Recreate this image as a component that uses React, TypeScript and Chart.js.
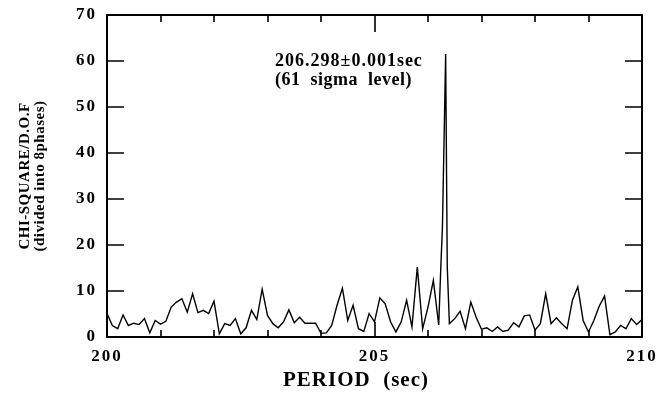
import React, { useEffect, useRef } from 'react';
import { Chart, registerables } from 'chart.js';

Chart.register(...registerables);

// Trial periods (sec); finer sampling around the detected peak
const periods: number[] = [
  200.0, 200.1, 200.2, 200.3, 200.4, 200.5, 200.6, 200.7, 200.8, 200.9,
  201.0, 201.1, 201.2, 201.3, 201.4, 201.5, 201.6, 201.7, 201.8, 201.9,
  202.0, 202.1, 202.2, 202.3, 202.4, 202.5, 202.6, 202.7, 202.8, 202.9,
  203.0, 203.1, 203.2, 203.3, 203.4, 203.5, 203.6, 203.7, 203.8, 203.9,
  204.0, 204.1, 204.2, 204.3, 204.4, 204.5, 204.6, 204.7, 204.8, 204.9,
  205.0, 205.1, 205.2, 205.3, 205.4, 205.5, 205.6, 205.7, 205.8, 205.9,
  206.0, 206.1, 206.2,
  206.24, 206.27, 206.33, 206.36,
  206.4, 206.5, 206.6, 206.7, 206.8, 206.9,
  207.0, 207.1, 207.2, 207.3, 207.4, 207.5, 207.6, 207.7, 207.8, 207.9,
  208.0, 208.1, 208.2, 208.3, 208.4, 208.5, 208.6, 208.7, 208.8, 208.9,
  209.0, 209.1, 209.2, 209.3, 209.4, 209.5, 209.6, 209.7, 209.8, 209.9,
  210.0,
];

// Chi-square / D.O.F values
const chiSquare: number[] = [
  5.1, 2.5, 1.8, 4.8, 2.5, 3.0, 2.7, 4.0, 0.9, 3.6,
  2.8, 3.4, 6.5, 7.6, 8.3, 5.4, 9.4, 5.3, 5.8, 5.1,
  7.8, 0.7, 2.9, 2.5, 4.0, 0.7, 2.0, 5.8, 3.8, 10.4,
  4.7, 2.9, 2.0, 3.3, 5.9, 3.1, 4.3, 3.0, 3.0, 3.0,
  0.8, 0.9, 2.5, 6.9, 10.6, 3.6, 6.9, 1.8, 1.2, 5.1,
  3.3, 8.5, 7.2, 3.3, 1.1, 3.3, 8.0, 2.2, 15.2, 1.8,
  6.5, 12.3, 2.6,
  15.3, 24.0, 61.5, 15.3,
  2.9, 4.0, 5.6, 1.8, 7.6, 4.3,
  1.7, 2.0, 1.2, 2.2, 1.2, 1.5, 3.1, 2.2, 4.6, 4.8,
  1.5, 2.9, 9.4, 2.9, 4.2, 2.9, 1.8, 8.0, 10.9, 3.6,
  1.1, 3.6, 6.7, 8.9, 0.5, 1.1, 2.5, 1.8, 4.0, 2.7,
  3.8,
];

const xTickLabels: number[] = [200, 205, 210];
const xTickMarks: number[] = [201, 202, 203, 204, 205, 206, 207, 208, 209];
const xMajorMarks: number[] = [205];
const yTickValues: number[] = [0, 10, 20, 30, 40, 50, 60, 70];
const yTickMarks: number[] = [10, 20, 30, 40, 50, 60];

const xTitle = 'PERIOD  (sec)';
const yTitleLines: string[] = ['CHI-SQUARE/D.O.F', '(divided into 8phases)'];
const annotationLines: string[] = ['206.298±0.001sec', '(61  sigma  level)'];

const SERIF = '"Liberation Serif", "Times New Roman", serif';

const framePlugin = {
  id: 'frameAndText',
  beforeDraw(chart: any) {
    (chart.ctx as any).letterSpacing = '2px';
  },
  afterDraw(chart: any) {
    const { ctx, chartArea, scales } = chart;
    const { left, right, top, bottom } = chartArea;
    const x = scales.x;
    const y = scales.y;
    ctx.save();
    ctx.strokeStyle = '#000';
    ctx.lineWidth = 2;
    ctx.strokeRect(left, top, right - left, bottom - top);
    ctx.beginPath();
    ctx.lineWidth = 1.6;
    for (const v of xTickMarks) {
      const px = Math.round(x.getPixelForValue(v));
      const major = xMajorMarks.includes(v);
      ctx.moveTo(px, bottom);
      ctx.lineTo(px, bottom - (major ? 15 : 7));
      ctx.moveTo(px, top);
      ctx.lineTo(px, top + (major ? 17 : 7));
    }
    for (const v of yTickMarks) {
      const py = Math.round(y.getPixelForValue(v));
      ctx.moveTo(left, py);
      ctx.lineTo(left + 17, py);
      ctx.moveTo(right, py);
      ctx.lineTo(right - 17, py);
    }
    ctx.stroke();

    ctx.fillStyle = '#000';
    ctx.textBaseline = 'middle';
    // x title
    ctx.font = `bold 21px ${SERIF}`;
    (ctx as any).letterSpacing = '1px';
    ctx.textAlign = 'center';
    ctx.fillText(xTitle, 356, 381);

    // y title (rotated)
    ctx.save();
    ctx.translate(0, (top + bottom) / 2);
    ctx.rotate(-Math.PI / 2);
    ctx.font = `bold 15px ${SERIF}`;
    (ctx as any).letterSpacing = '0.5px';
    ctx.fillText(yTitleLines[0], 0, 25);
    ctx.fillText(yTitleLines[1], 0, 40);
    ctx.restore();

    // annotation
    ctx.textAlign = 'left';
    ctx.font = `bold 18px ${SERIF}`;
    (ctx as any).letterSpacing = '1px';
    ctx.fillText(annotationLines[0], 275, 61);
    (ctx as any).letterSpacing = '0.5px';
    ctx.fillText(annotationLines[1], 275, 80);
    ctx.restore();
    (ctx as any).letterSpacing = '0px';
  },
};

export default function App() {
  const canvasRef = useRef<HTMLCanvasElement | null>(null);

  useEffect(() => {
    const canvas = canvasRef.current;
    if (!canvas) return;
    const chart = new Chart(canvas, {
      type: 'line',
      data: {
        datasets: [
          {
            data: periods.map((p, i) => ({ x: p, y: chiSquare[i] })),
            borderColor: '#000',
            borderWidth: 1.4,
            pointRadius: 0,
            tension: 0,
            fill: false,
          },
        ],
      },
      options: {
        responsive: false,
        animation: false,
        events: [],
        layout: { padding: { left: 0, right: 18, top: 15, bottom: 0 } },
        plugins: { legend: { display: false }, tooltip: { enabled: false } },
        scales: {
          x: {
            type: 'linear',
            min: 200,
            max: 210,
            grid: { display: false, drawTicks: false },
            border: { display: false },
            afterBuildTicks: (scale: any) => {
              scale.ticks = xTickLabels.map((v) => ({ value: v }));
            },
            afterFit: (scale: any) => {
              scale.height = 59;
              scale.paddingLeft = 0;
              scale.paddingRight = 0;
            },
            ticks: {
              color: '#000',
              padding: 9,
              maxRotation: 0,
              font: { family: SERIF, size: 17, weight: 'bold' },
              callback: (v: any) => String(v),
            },
          },
          y: {
            type: 'linear',
            min: 0,
            max: 70,
            grid: { display: false, drawTicks: false },
            border: { display: false },
            afterBuildTicks: (scale: any) => {
              scale.ticks = yTickValues.map((v) => ({ value: v }));
            },
            afterFit: (scale: any) => {
              scale.width = 107;
              scale.paddingTop = 0;
              scale.paddingBottom = 0;
            },
            ticks: {
              color: '#000',
              padding: 10,
              font: { family: SERIF, size: 17, weight: 'bold' },
              callback: (v: any) => String(v),
            },
          },
        },
      },
      plugins: [framePlugin],
    });
    return () => chart.destroy();
  }, []);

  return (
    <div style={{ position: 'absolute', left: 0, top: 0, width: 660, height: 396, background: '#fff' }}>
      <canvas ref={canvasRef} width={660} height={396} />
    </div>
  );
}
